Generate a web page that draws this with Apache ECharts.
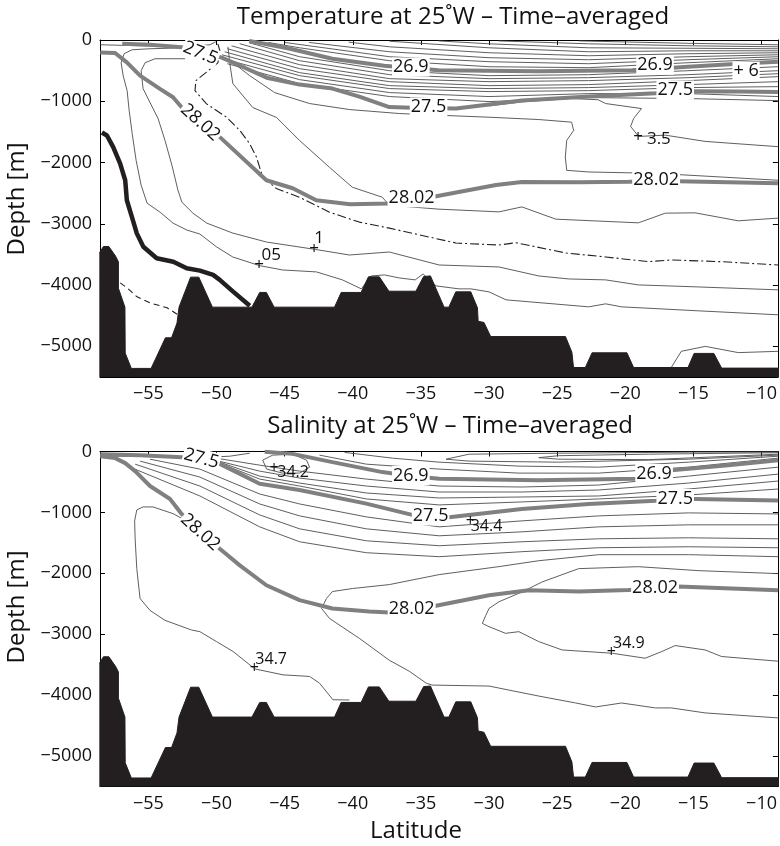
<!DOCTYPE html>
<html><head><meta charset="utf-8">
<script src="https://cdn.jsdelivr.net/npm/echarts@6/dist/echarts.min.js"></script>
<style>html,body{margin:0;padding:0;background:#fff}#c{width:780px;height:846px}</style>
</head><body><div id="c"></div>
<script>
// ---------- ticks ----------
const LAT_TICKS = [-55,-50,-45,-40,-35,-30,-25,-20,-15,-10];
const DEPTH_TICKS = [-5000,-4000,-3000,-2000,-1000,0];
const LAT_MIN = -58.55, LAT_MAX = -8.8, DEPTH_MIN = -5500, DEPTH_MAX = 0;

// ---------- bathymetry [lat, depth] ----------
const BATHY = [[-58.6,-3480],[-58.3,-3370],[-57.9,-3370],[-57.4,-3530],[-57.2,-3620],[-57.2,-4050],[-56.72,-4360],[-56.7,-5110],[-56.25,-5360],[-54.8,-5360],[-53.75,-4860],[-53.3,-4860],[-52.9,-4620],[-52.75,-4360],[-51.9,-3870],[-51.3,-3870],[-50.3,-4360],[-47.4,-4360],[-46.83,-4120],[-46.34,-4120],[-45.77,-4360],[-41.34,-4360],[-40.85,-4120],[-39.39,-4120],[-38.85,-3865],[-38.05,-3865],[-37.35,-4100],[-35.37,-4100],[-34.8,-3860],[-34.3,-3850],[-33.3,-4360],[-32.95,-4360],[-32.44,-4110],[-31.34,-4110],[-30.85,-4370],[-30.8,-4590],[-30.37,-4610],[-29.88,-4840],[-24.39,-4840],[-23.92,-5095],[-23.8,-5345],[-22.93,-5345],[-22.44,-5105],[-19.88,-5105],[-19.39,-5345],[-15.4,-5345],[-14.95,-5115],[-13.5,-5115],[-12.93,-5355],[-8.5,-5355]];

// ---------- TEMPERATURE section ----------
const T_SIG_269 = [[-47.6,-15],[-46.1,-78],[-44.6,-143],[-41.5,-306],[-37.7,-420],[-33.7,-493],[-26.4,-512],[-19.5,-493],[-15.4,-436],[-11.7,-387],[-8.8,-354]];
const T_SIG_275 = [[-56.92,-62],[-54.88,-78],[-52.54,-119],[-51.22,-176],[-49.61,-289],[-47.93,-452],[-46.32,-615],[-43.91,-728],[-41.49,-793],[-39.52,-923],[-37.32,-1094],[-35.13,-1111],[-32.42,-1119],[-30.0,-1054],[-27.59,-989],[-22.69,-924],[-17.78,-870],[-14.86,-837],[-11.73,-842],[-8.8,-850]];
const T_SIG_2802 = [[-58.53,-203],[-57.44,-213],[-56.58,-366],[-55.61,-582],[-54.15,-798],[-53.19,-935],[-52.56,-1098],[-51.22,-1346],[-49.75,-1585],[-46.34,-2289],[-44.41,-2419],[-42.68,-2615],[-40.2,-2680],[-37.32,-2668],[-35.49,-2615],[-34.17,-2561],[-29.49,-2366],[-27.59,-2317],[-23.4,-2322],[-19.76,-2314],[-17.78,-2306],[-16.1,-2306],[-8.8,-2338]];
const T_BLACK = [[-58.41,-1509],[-58.04,-1558],[-57.58,-1748],[-57.07,-2018],[-56.70,-2289],[-56.58,-2615],[-56.21,-2886],[-55.85,-3156],[-55.37,-3374],[-54.39,-3563],[-53.17,-3618],[-52.19,-3725],[-51.22,-3764],[-50.25,-3834],[-49.76,-3915],[-48.78,-4106],[-47.56,-4338]];
const T_DASHED = [[-57.07,-3964],[-56.56,-4046],[-55.83,-4192],[-54.88,-4290],[-53.63,-4371],[-52.83,-4485]];
const T_DASHDOT = [[-49.9,-62],[-49.75,-176],[-49.9,-371],[-50.78,-533],[-51.51,-663],[-51.58,-826],[-50.73,-1042],[-49.26,-1260],[-48.29,-1476],[-47.56,-1693],[-47.07,-1911],[-46.61,-2236],[-45.61,-2424],[-43.91,-2566],[-41.71,-2810],[-39.52,-2972],[-37.32,-3070],[-32.42,-3314],[-29.27,-3346],[-28.03,-3309],[-24.37,-3476],[-21.44,-3541],[-18.30,-3618],[-16.62,-3590],[-12.96,-3618],[-8.78,-3672]];
const T_U1 = [[-23.4,-15],[-15.4,-54],[-8.8,-78]];
const T_U2 = [[-29.3,-15],[-22.7,-62],[-15.4,-94],[-8.8,-111]];
const T_U3 = [[-33.7,-15],[-30.0,-62],[-22.7,-127],[-15.4,-135],[-8.8,-143]];
const T_U4 = [[-37.3,-20],[-30.0,-127],[-22.7,-192],[-15.4,-176],[-8.8,-176]];
const T_U5 = [[-40.3,-35],[-37.3,-111],[-30.0,-208],[-22.7,-257],[-15.4,-224],[-8.8,-208]];
const T_U6 = [[-43.2,-40],[-37.3,-192],[-30.0,-289],[-22.7,-322],[-15.4,-273],[-8.8,-241]];
const T_U7 = [[-45.0,-40],[-37.3,-273],[-30.0,-354],[-22.7,-387],[-15.4,-322],[-8.8,-273]];
const T_U8 = [[-46.2,-40],[-43.9,-127],[-37.3,-338],[-30.0,-436],[-22.7,-452],[-15.4,-371],[-8.8,-306]];
const T_M1 = [[-47.6,-45],[-43.9,-273],[-37.3,-501],[-30.0,-582],[-22.7,-566],[-15.4,-501],[-8.8,-436]];
const T_M2 = [[-48.3,-60],[-43.9,-338],[-37.3,-566],[-30.0,-631],[-22.7,-615],[-15.4,-566],[-8.8,-501]];
const T_M3 = [[-48.9,-95],[-43.9,-403],[-37.3,-631],[-30.0,-680],[-22.7,-663],[-15.4,-615],[-8.8,-550]];
const T_M4 = [[-49.2,-143],[-43.9,-468],[-37.3,-680],[-30.0,-745],[-22.7,-728],[-15.4,-663],[-8.8,-598]];
const T_M5 = [[-49.4,-192],[-43.9,-533],[-37.3,-745],[-30.0,-793],[-22.7,-777],[-15.4,-728],[-8.8,-680]];
const T_M6 = [[-49.6,-241],[-43.9,-582],[-37.3,-793],[-30.0,-842],[-22.7,-826],[-15.4,-777],[-8.8,-761]];
const T_M7 = [[-49.5,-306],[-43.9,-647],[-37.3,-858],[-30.0,-923],[-22.7,-875],[-15.4,-875],[-8.8,-923]];
const T_M8 = [[-49.2,-387],[-43.9,-712],[-37.3,-923],[-30.0,-1005],[-22.7,-940],[-15.4,-956],[-8.8,-989]];
const T_B = [[-49.16,-111],[-49.02,-387],[-48.80,-712],[-47.34,-1102],[-45.59,-1265],[-43.91,-1639],[-41.71,-2078],[-40.03,-2403],[-37.83,-2566],[-37.32,-2696],[-33.66,-2761],[-29.27,-2805],[-27.59,-2724],[-25.10,-2924],[-19.04,-2984],[-17.06,-2826],[-14.87,-2821],[-11.71,-2951],[-8.78,-2907]];
const T_C = [[-48.5,-420],[-47.56,-582],[-45.73,-859],[-43.17,-1037],[-40.25,-1135],[-36.59,-1200],[-33.17,-1232],[-30.0,-1260],[-26.35,-1298],[-23.94,-1341],[-23.79,-1476],[-24.30,-1639],[-24.40,-1911],[-24.30,-2127],[-22.69,-2154],[-17.79,-2176],[-12.96,-2236],[-8.78,-2289]];
const T_35 = [[-30.0,-1075],[-27.59,-1010],[-24.0,-955],[-22.0,-975],[-21.44,-1037],[-18.81,-1119],[-19.39,-1281],[-19.61,-1411],[-19.02,-1574],[-17.06,-1553],[-14.14,-1655],[-8.78,-1741]];
const T_05 = [[-52.39,-127],[-54.88,-143],[-56.19,-159],[-56.78,-224],[-57.0,-371],[-56.85,-582],[-56.56,-826],[-56.41,-1151],[-56.19,-1525],[-55.90,-1964],[-55.53,-2371],[-55.09,-2664],[-54.14,-2810],[-53.19,-2989],[-52.17,-3102],[-51.22,-3167],[-49.98,-3379],[-48.81,-3541],[-46.83,-3683],[-45.15,-3753],[-42.66,-3785],[-40.76,-3915],[-39.37,-4062],[-38.65,-3851],[-37.68,-3834],[-36.59,-3883],[-35.42,-3915],[-34.84,-3818],[-33.89,-4013],[-32.20,-4062],[-31.32,-4062],[-30.0,-4111],[-28.75,-4241],[-22.69,-4355],[-21.44,-4306],[-20.29,-4355],[-14.65,-4420],[-8.78,-4485]];
const T_1 = [[-52.31,-306],[-54.51,-306],[-55.24,-371],[-55.53,-501],[-55.39,-793],[-54.88,-1021],[-54.29,-1281],[-53.78,-1639],[-53.27,-2045],[-52.83,-2452],[-52.54,-2647],[-51.73,-2826],[-50.71,-2989],[-48.81,-3151],[-46.32,-3298],[-42.80,-3416],[-40.25,-3509],[-37.32,-3460],[-33.66,-3672],[-29.27,-3704],[-26.35,-3851],[-24.15,-3900],[-21.44,-3915],[-19.04,-3997],[-14.65,-4030],[-8.78,-4078]];
const T_S1 = [[-58.53,-78],[-55.61,-94],[-52.31,-111],[-50.49,-78],[-50.05,-29]];
const T_DEEP = [[-16.7,-5370],[-16.62,-5346],[-15.89,-5081],[-14.13,-5000],[-11.71,-5102],[-8.78,-5081]];
// labels [lat, depth, text, rotation]
const T_LINE_LABELS = [[-51.15,-224,'27.5',-22],[-34.4,-1102,'27.5',0],[-16.3,-826,'27.5',0],[-35.7,-447,'26.9',0],[-17.78,-420,'26.9',0],[-51.15,-1354,'28.02',-42],[-35.65,-2582,'28.02',0],[-17.7,-2289,'28.02',0],[-11.1,-517,'+ 6',0]];
const T_POINT_LABELS = [[-46.83,-3683,'+'],[-45.95,-3525,'05'],[-42.8,-3416,'+'],[-42.44,-3249,'1'],[-19.02,-1590,'+'],[-17.5,-1624,'3.5']];

// ---------- SALINITY section ----------
const S_SIG_269 = [[-46.46,-5],[-44.42,-39],[-41.49,-175],[-37.83,-338],[-35.71,-404],[-33.66,-448],[-26.35,-474],[-19.25,-448],[-17.9,-380],[-16.62,-310],[-12.45,-224],[-8.78,-142]];
const S_SIG_275 = [[-58.53,-44],[-55.61,-60],[-52.54,-93],[-51.07,-130],[-49.76,-203],[-46.83,-529],[-43.91,-632],[-39.01,-856],[-35.64,-1041],[-34.25,-1066],[-32.93,-1078],[-27.59,-943],[-22.69,-861],[-17.79,-807],[-16.3,-779],[-14.87,-779],[-8.78,-804]];
const S_SIG_2802 = [[-58.53,-77],[-57.43,-109],[-56.7,-191],[-55.97,-322],[-54.88,-567],[-53.41,-779],[-52.56,-1025],[-51.22,-1319],[-49.76,-1597],[-48.29,-1869],[-46.34,-2196],[-43.91,-2441],[-41.49,-2577],[-38.78,-2626],[-37.32,-2642],[-35.64,-2593],[-34.17,-2544],[-30.0,-2359],[-27.07,-2278],[-23.42,-2299],[-19.77,-2275],[-17.78,-2250],[-16.11,-2217],[-8.78,-2278]];
const S_342 = [[-46.61,-142],[-45.88,-60],[-44.42,-44],[-43.39,-142],[-43.17,-257],[-43.9,-355],[-45.15,-355],[-46.32,-289],[-46.61,-142]];
const S_347 = [[-51.95,-1172],[-53.19,-1020],[-54.66,-910],[-55.39,-910],[-55.85,-959],[-56.01,-1139],[-55.97,-1433],[-55.85,-1923],[-55.61,-2413],[-54.88,-2609],[-53.78,-2772],[-51.83,-2931],[-51.22,-2958],[-50.0,-3121],[-48.78,-3284],[-47.19,-3569],[-45.12,-3667],[-43.17,-3693],[-42.44,-3803],[-41.46,-4075],[-40.25,-4080]];
const S_348 = [[-8.78,-4374],[-14.14,-4292],[-16.62,-4210],[-17.79,-4210],[-20.27,-4129],[-22.18,-4194],[-23.64,-4129],[-26.35,-4015],[-28.54,-3917],[-30.0,-3851],[-34.17,-3835],[-34.61,-3803],[-35.86,-3607],[-37.32,-3427],[-39.52,-3067],[-41.71,-2740],[-42.29,-2577],[-41.93,-2413],[-41.49,-2299],[-40.03,-2250],[-37.32,-2185],[-33.66,-2021],[-29.27,-1890],[-26.35,-1793],[-21.96,-1694],[-15.37,-1694],[-8.78,-1727]];
const S_349 = [[-8.78,-3443],[-12.93,-3366],[-14.14,-3258],[-16.34,-3186],[-17.32,-3284],[-18.54,-3394],[-20.98,-3312],[-24.64,-3258],[-26.35,-3121],[-27.81,-2958],[-28.79,-2985],[-30.0,-2876],[-30.49,-2822],[-30.24,-2691],[-30.0,-2577],[-29.27,-2467],[-27.56,-2304],[-26.1,-2141],[-23.42,-1923],[-19.04,-1891],[-14.65,-1956],[-8.78,-2005]];
const S_B1 = [[-54.88,-126],[-51.22,-289],[-46.83,-698],[-43.9,-861],[-39.0,-1074],[-33.66,-1237],[-27.59,-1139],[-21.96,-1057],[-15.37,-1008],[-8.78,-1025]];
const S_B2 = [[-55.61,-158],[-51.22,-420],[-46.83,-861],[-43.9,-1057],[-39.0,-1270],[-33.66,-1384],[-27.59,-1319],[-21.96,-1237],[-15.37,-1204],[-8.78,-1204]];
const S_B3 = [[-55.97,-208],[-51.22,-567],[-46.83,-1041],[-43.9,-1270],[-39.0,-1466],[-33.66,-1547],[-27.59,-1482],[-21.96,-1433],[-15.37,-1417],[-8.78,-1433]];
const S_B4 = [[-56.34,-257],[-51.22,-730],[-46.83,-1237],[-43.9,-1482],[-39.0,-1662],[-33.66,-1727],[-27.59,-1645],[-21.96,-1580],[-15.37,-1564],[-8.78,-1580]];
const S_D1 = [[-50.49,-93],[-46.83,-224],[-43.9,-322],[-39.0,-453],[-33.66,-567],[-27.59,-583],[-21.96,-551],[-15.37,-404],[-8.78,-257]];
const S_D2 = [[-50.12,-142],[-46.83,-322],[-43.9,-436],[-39.0,-567],[-33.66,-665],[-27.59,-665],[-21.96,-632],[-15.37,-518],[-8.78,-371]];
const S_D3 = [[-49.76,-175],[-46.83,-404],[-43.9,-518],[-39.0,-681],[-33.66,-763],[-27.59,-747],[-21.96,-730],[-15.37,-616],[-8.78,-485]];
const S_D4 = [[-49.39,-224],[-46.83,-453],[-43.9,-567],[-39.0,-779],[-33.66,-877],[-27.59,-828],[-21.96,-779],[-15.37,-714],[-8.78,-616]];
const S_E1 = [[-42.44,-60],[-39.0,-208],[-33.66,-289],[-27.81,-355],[-21.96,-355],[-15.37,-257],[-8.78,-109]];
const S_E2 = [[-40.6,-15],[-37.1,-109],[-33.66,-175],[-27.81,-240],[-21.96,-257],[-15.37,-175],[-8.78,-77]];
const S_H1 = [[-8.78,-8],[-15.37,-11],[-24.89,-28],[-31.47,-44],[-33.15,-126],[-31.47,-158],[-24.89,-175],[-15.37,-126],[-8.78,-60]];
const S_H2 = [[-8.78,-20],[-18.3,-44],[-24.89,-69],[-26.35,-101],[-24.89,-126],[-18.3,-134],[-8.78,-44]];
const S_F1 = [[-58.53,-77],[-54.88,-77],[-51.95,-109],[-49.02,-77],[-47.56,-28]];
const S_LINE_LABELS = [[-51.07,-126,'27.5',-15],[-34.25,-1066,'27.5',0],[-16.3,-779,'27.5',0],[-35.7,-404,'26.9',0],[-17.85,-371,'26.9',0],[-51.15,-1335,'28.02',-42],[-35.64,-2593,'28.02',0],[-17.78,-2250,'28.02',0]];
const S_POINT_LABELS = [[-45.73,-289,'+'],[-44.34,-355,'34.2'],[-31.33,-1155,'+'],[-30.15,-1237,'34.4'],[-47.19,-3569,'+'],[-45.95,-3427,'34.7'],[-20.98,-3312,'+'],[-19.7,-3165,'34.9']];

// ---------- styling ----------
const FONT = "'Open Sans', 'Noto Sans', sans-serif";
const INK = '#231f20';
const THIN = '#4d4d4d';
const GREY = '#808080';
const minus = v => String(v).replace('-', '\u2212');

function xAx(gi, pos, showLab) {
  return { type:'value', gridIndex:gi, position:pos, min:LAT_MIN, max:LAT_MAX,
    axisLine:{show:true,onZero:false,lineStyle:{color:'#000',width:1}},
    axisTick:{show:true,inside:true,length:5,customValues:LAT_TICKS,lineStyle:{color:'#000'}},
    axisLabel:{show:showLab,customValues:LAT_TICKS,formatter:minus,color:'#111',fontSize:18,fontFamily:FONT,margin:8},
    splitLine:{show:false} };
}
function yAx(gi, pos, showLab) {
  return { type:'value', gridIndex:gi, position:pos, min:DEPTH_MIN, max:DEPTH_MAX,
    axisLine:{show:true,onZero:false,lineStyle:{color:'#000',width:1}},
    axisTick:{show:true,inside:true,length:5,customValues:DEPTH_TICKS,lineStyle:{color:'#000'}},
    axisLabel:{show:showLab,customValues:DEPTH_TICKS,formatter:minus,color:'#111',fontSize:18,fontFamily:FONT,margin:8},
    splitLine:{show:false} };
}
function ln(data, gi, color, width, type, z) {
  return { type:'line', xAxisIndex:gi*2, yAxisIndex:gi*2, data, symbol:'none', showSymbol:false,
    smooth:false, silent:true, lineStyle:{color, width, type:type||'solid'}, z:z||2 };
}
function bathy(gi) {
  return { type:'line', xAxisIndex:gi*2, yAxisIndex:gi*2, data:BATHY, symbol:'none', showSymbol:false,
    silent:true, lineStyle:{color:INK,width:1}, areaStyle:{color:INK,opacity:1,origin:'start'}, z:6 };
}
function labs(arr, gi, size, bg) {
  return { type:'scatter', xAxisIndex:gi*2, yAxisIndex:gi*2, symbolSize:1, silent:true,
    itemStyle:{color:'#fff', opacity:1}, z:10,
    label:{show:true, position:[0,0], align:'center', verticalAlign:'middle', color:'#111', opacity:1,
      fontSize:size, fontFamily:FONT,
      backgroundColor: bg ? '#fff' : 'transparent', padding:[0,1], lineHeight:size+1},
    data: arr.map(d => ({ value:[d[0], d[1]], label:{ formatter:d[2], rotate:d[3]||0 } })) };
}

const series = [];
// temperature (grid 0)
[T_U1,T_U2,T_U3,T_U4,T_U5,T_U6,T_U7,T_U8,T_M1,T_M2,T_M3,T_M4,T_M5,T_M6,T_M7,T_M8,T_B,T_C,T_35,T_05,T_1,T_S1,T_DEEP]
  .forEach(d => series.push(ln(d, 0, THIN, 0.9)));
series.push(ln(T_DASHDOT, 0, INK, 1.1, [9,3,2,3], 3));
series.push(ln(T_DASHED, 0, INK, 1.1, [6,4], 3));
[T_SIG_269, T_SIG_275, T_SIG_2802].forEach(d => series.push(ln(d, 0, GREY, 4, 'solid', 4)));
series.push(ln(T_BLACK, 0, INK, 4.5, 'solid', 5));
series.push(bathy(0));
series.push(labs(T_LINE_LABELS, 0, 18, true));
series.push(labs(T_POINT_LABELS, 0, 17, false));
// salinity (grid 1)
[S_342,S_347,S_348,S_349,S_B1,S_B2,S_B3,S_B4,S_D1,S_D2,S_D3,S_D4,S_E1,S_E2,S_H1,S_H2,S_F1]
  .forEach(d => series.push(ln(d, 1, THIN, 0.9)));
[S_SIG_269, S_SIG_275, S_SIG_2802].forEach(d => series.push(ln(d, 1, GREY, 4, 'solid', 4)));
series.push(bathy(1));
series.push(labs(S_LINE_LABELS, 1, 18, true));
series.push(labs(S_POINT_LABELS, 1, 16, false));

const txt = (x, y, text, rot) => ({ type:'text', x, y, rotation:rot||0, z:20,
  style:{ text, fill:'#111', font:"24px 'Open Sans', 'Noto Sans', sans-serif", textAlign:'center', textVerticalAlign:'middle' } });

const option = {
  animation:false,
  backgroundColor:'#fff',
  grid:[ {left:100, top:40, width:680, height:337},
         {left:100, top:451.5, width:680, height:335} ],
  xAxis:[ xAx(0,'bottom',true), xAx(0,'top',false), xAx(1,'bottom',true), xAx(1,'top',false) ],
  yAxis:[ yAx(0,'left',true), yAx(0,'right',false), yAx(1,'left',true), yAx(1,'right',false) ],
  series,
  graphic:[
    txt(453, 17, 'Temperature at 25\u02DAW \u2013 Time\u2013averaged'),
    txt(450, 426, 'Salinity at 25\u02DAW \u2013 Time\u2013averaged'),
    txt(17, 199, 'Depth [m]', Math.PI/2),
    txt(17, 607, 'Depth [m]', Math.PI/2),
    txt(416, 831, 'Latitude')
  ]
};
const chart = echarts.init(document.getElementById('c'));
chart.setOption(option);
</script>
</body></html>
